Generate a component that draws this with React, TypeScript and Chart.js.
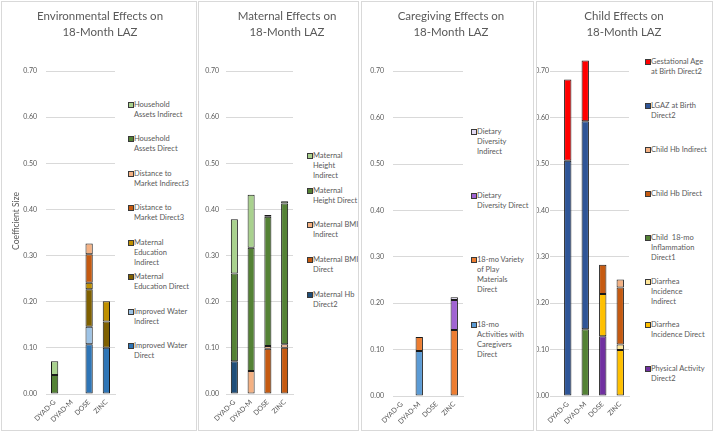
import React, { useEffect, useRef } from 'react';
import { Chart, registerables } from 'chart.js';

Chart.register(...registerables);

// ---------- data ----------
const categories = ['DYAD-G', 'DYAD-M', 'DOSE', 'ZINC'];
const yTickValues = [0, 0.1, 0.2, 0.3, 0.4, 0.5, 0.6, 0.7];

// Environmental (bottom to top)
const envImprovedWaterDirect = [null, null, 0.108, 0.1];
const envImprovedWaterIndirect = [null, null, 0.038, null];
const envMatEduDirect = [null, null, 0.081, 0.057];
const envMatEduIndirect = [null, null, 0.014, 0.044];
const envDistMarketDirect = [null, null, 0.062, null];
const envDistMarketIndirect = [null, null, 0.023, null];
const envHouseholdDirect = [0.041, null, null, null];
const envHouseholdIndirect = [0.03, null, null, null];

// Maternal
const matHbDirect = [0.071, null, null, null];
const matBmiDirect = [null, null, 0.098, 0.1];
const matBmiIndirect = [null, 0.05, 0.006, 0.008];
const matHeightDirect = [0.19, 0.267, 0.28, 0.305];
const matHeightIndirect = [0.118, 0.115, 0.004, 0.005];

// Caregiving
const careActivitiesDirect = [null, 0.097, null, null];
const carePlayDirect = [null, 0.03, null, 0.142];
const careDietDirect = [null, null, null, 0.065];
const careDietIndirect = [null, null, null, 0.006];

// Child
const childPhysActDirect = [null, null, 0.129, null];
const childDiarrheaDirect = [null, null, 0.091, 0.099];
const childDiarrheaIndirect = [null, null, null, 0.012];
const childInflammationDirect = [null, 0.144, null, null];
const childHbDirect = [null, null, 0.063, 0.123];
const childHbIndirect = [null, null, null, 0.017];
const childLgazDirect = [0.507, 0.448, null, null];
const childGestAgeDirect = [0.175, 0.131, null, null];

// ---------- config ----------
type Series = { label: string; lines: string[]; data: (number | null)[]; color: string };
type PanelCfg = {
  title: string[];
  titleCx: number;
  series: Series[];
  boxLeft: number;
  boxWidth: number;
  caLeft: number;
  caRight: number;
  caBottom: number;
  tickPad: number;
  yTitle?: string;
  legendX: number;
  legendY: number;
  legendGap: number;
  gridFrom?: number;
};

const FONT = 'Lato, "Open Sans", sans-serif';
const TEXT = '#595959';
const GRID = '#d9d9d9';

const panels: PanelCfg[] = [
  {
    title: ['Environmental Effects on', '18-Month LAZ'],
    titleCx: 100,
    series: [
      { label: 'Improved Water Direct', lines: ['Improved Water', 'Direct'], data: envImprovedWaterDirect, color: '#2E75B6' },
      { label: 'Improved Water Indirect', lines: ['Improved Water', 'Indirect'], data: envImprovedWaterIndirect, color: '#9DC3E6' },
      { label: 'Maternal Education Direct', lines: ['Maternal', 'Education Direct'], data: envMatEduDirect, color: '#7F6000' },
      { label: 'Maternal Education Indirect', lines: ['Maternal', 'Education', 'Indirect'], data: envMatEduIndirect, color: '#BF9000' },
      { label: 'Distance to Market Direct3', lines: ['Distance to', 'Market Direct3'], data: envDistMarketDirect, color: '#C55A11' },
      { label: 'Distance to Market Indirect3', lines: ['Distance to', 'Market Indirect3'], data: envDistMarketIndirect, color: '#F4B183' },
      { label: 'Household Assets Direct', lines: ['Household', 'Assets Direct'], data: envHouseholdDirect, color: '#548235' },
      { label: 'Household Assets Indirect', lines: ['Household', 'Assets Indirect'], data: envHouseholdIndirect, color: '#A9D18E' },
    ],
    boxLeft: 1,
    boxWidth: 196,
    caLeft: 46,
    caRight: 115,
    caBottom: 394,
    tickPad: 9,
    yTitle: 'Coefficient Size',
    legendX: 128,
    legendY: 104.5,
    legendGap: 34.5,
  },
  {
    title: ['Maternal Effects on', '18-Month LAZ'],
    titleCx: 287,
    series: [
      { label: 'Maternal Hb Direct2', lines: ['Maternal Hb', 'Direct2'], data: matHbDirect, color: '#1F4E79' },
      { label: 'Maternal BMI Direct', lines: ['Maternal BMI', 'Direct'], data: matBmiDirect, color: '#C55A11' },
      { label: 'Maternal BMI Indirect', lines: ['Maternal BMI', 'Indirect'], data: matBmiIndirect, color: '#F4B183' },
      { label: 'Maternal Height Direct', lines: ['Maternal', 'Height Direct'], data: matHeightDirect, color: '#548235' },
      { label: 'Maternal Height Indirect', lines: ['Maternal', 'Height', 'Indirect'], data: matHeightIndirect, color: '#A9D18E' },
    ],
    boxLeft: 198,
    boxWidth: 161,
    caLeft: 226,
    caRight: 293,
    caBottom: 394,
    tickPad: 7,
    legendX: 307,
    legendY: 156,
    legendGap: 34.7,
  },
  {
    title: ['Caregiving Effects on', '18-Month LAZ'],
    titleCx: 451,
    series: [
      { label: '18-mo Activities with Caregivers Direct', lines: ['18-mo', 'Activities with', 'Caregivers', 'Direct'], data: careActivitiesDirect, color: '#5B9BD5' },
      { label: '18-mo Variety of Play Materials Direct', lines: ['18-mo Variety', 'of Play', 'Materials', 'Direct'], data: carePlayDirect, color: '#ED7D31' },
      { label: 'Dietary Diversity Direct', lines: ['Dietary', 'Diversity Direct'], data: careDietDirect, color: '#A064D2' },
      { label: 'Dietary Diversity Indirect', lines: ['Dietary', 'Diversity', 'Indirect'], data: careDietIndirect, color: '#E2DAF4' },
    ],
    boxLeft: 361,
    boxWidth: 173,
    caLeft: 393,
    caRight: 463,
    caBottom: 396,
    tickPad: 9,
    legendX: 471,
    legendY: 132,
    legendGap: 64.2,
  },
  {
    title: ['Child Effects on', '18-Month LAZ'],
    titleCx: 624,
    series: [
      { label: 'Physical Activity Direct2', lines: ['Physical Activity', 'Direct2'], data: childPhysActDirect, color: '#7030A0' },
      { label: 'Diarrhea Incidence Direct', lines: ['Diarrhea', 'Incidence Direct'], data: childDiarrheaDirect, color: '#FFC000' },
      { label: 'Diarrhea Incidence Indirect', lines: ['Diarrhea', 'Incidence', 'Indirect'], data: childDiarrheaIndirect, color: '#FFE699' },
      { label: 'Child 18-mo Inflammation Direct1', lines: ['Child  18-mo', 'Inflammation', 'Direct1'], data: childInflammationDirect, color: '#548235' },
      { label: 'Child Hb Direct', lines: ['Child Hb Direct'], data: childHbDirect, color: '#C55A11' },
      { label: 'Child Hb Indirect', lines: ['Child Hb Indirect'], data: childHbIndirect, color: '#F4B183' },
      { label: 'LGAZ at Birth Direct2', lines: ['LGAZ at Birth', 'Direct2'], data: childLgazDirect, color: '#2F5597' },
      { label: 'Gestational Age at Birth Direct2', lines: ['Gestational Age', 'at Birth Direct2'], data: childGestAgeDirect, color: '#FF0000' },
    ],
    boxLeft: 536,
    boxWidth: 177,
    caLeft: 559,
    caRight: 629,
    caBottom: 396,
    tickPad: 10,
    legendX: 645,
    legendY: 62,
    legendGap: 43.9,
    gridFrom: 550,
  },
];

const PANEL_TOP = 1;
const PANEL_H = 430;
const CA_TOP = 48;

function gridExt(fromX: number) {
  return {
    id: 'gridExt',
    beforeDatasetsDraw(chart: any) {
      const y = chart.scales.y;
      const ctx = chart.ctx;
      ctx.save();
      ctx.strokeStyle = GRID;
      ctx.lineWidth = 1;
      y.ticks.forEach((t: any) => {
        const p = Math.round(y.getPixelForValue(t.value) - 0.5) + 0.5;
        ctx.beginPath();
        ctx.moveTo(fromX, p);
        ctx.lineTo(chart.chartArea.left, p);
        ctx.stroke();
      });
      ctx.restore();
    },
  };
}

function Panel({ cfg }: { cfg: PanelCfg }) {
  const ref = useRef<HTMLCanvasElement>(null);
  const ox = cfg.boxLeft + 1;
  const oy = PANEL_TOP + 1;
  const cw = cfg.caRight + 3 - ox;
  const ch = PANEL_H - 2;

  useEffect(() => {
    const chart = new Chart(ref.current as HTMLCanvasElement, {
      type: 'bar',
      data: {
        labels: categories,
        datasets: cfg.series.map((s) => ({
          label: s.label,
          data: s.data as any,
          backgroundColor: s.color,
          borderColor: '#1a1a1a',
          borderWidth: 1,
          borderSkipped: false,
          barPercentage: 0.42,
          categoryPercentage: 1,
        })),
      },
      options: {
        responsive: false,
        animation: false,
        devicePixelRatio: 1,
        layout: { padding: { left: 0, top: CA_TOP - oy, right: 3, bottom: 0 } },
        plugins: {
          legend: { display: false },
          title: { display: false },
          tooltip: { enabled: false },
        },
        scales: {
          x: {
            stacked: true,
            grid: { display: false, drawTicks: false },
            border: { display: true, color: GRID, width: 1 },
            ticks: {
              font: { family: FONT, size: 7 },
              color: TEXT,
              minRotation: 45,
              maxRotation: 45,
              padding: 4,
              autoSkip: false,
            },
            afterFit: (s: any) => {
              s.height = oy + ch - cfg.caBottom;
            },
          },
          y: {
            stacked: true,
            min: 0,
            max: 0.75,
            afterBuildTicks: (s: any) => {
              s.ticks = yTickValues.map((v) => ({ value: v }));
            },
            ticks: {
              padding: cfg.tickPad,
              font: { family: FONT, size: 7 },
              color: TEXT,
              callback: (v: any) => Number(v).toFixed(2),
            },
            grid: { color: GRID, drawTicks: false },
            border: { display: false },
            title: cfg.yTitle
              ? {
                  display: true,
                  text: cfg.yTitle,
                  color: TEXT,
                  font: { family: FONT, size: 8.5 },
                  padding: { top: 9, bottom: 0 },
                }
              : { display: false },
            afterFit: (s: any) => {
              s.width = cfg.caLeft - ox;
            },
          },
        },
      } as any,
      plugins: cfg.gridFrom ? [gridExt(cfg.gridFrom - ox)] : [],
    });
    return () => chart.destroy();
  }, []);

  const legendItems = cfg.series.slice().reverse();

  return (
    <div
      style={{
        position: 'absolute',
        left: cfg.boxLeft,
        top: PANEL_TOP,
        width: cfg.boxWidth,
        height: PANEL_H,
        boxSizing: 'border-box',
        border: `1px solid ${GRID}`,
        overflow: 'hidden',
        background: '#fff',
      }}
    >
      <canvas
        ref={ref}
        width={cw}
        height={ch}
        style={{ position: 'absolute', left: 0, top: 0, width: cw, height: ch, display: 'block' }}
      />
      <div
        style={{
          position: 'absolute',
          left: cfg.titleCx - 100 - ox,
          top: 8 - oy,
          width: 200,
          textAlign: 'center',
          fontFamily: FONT,
          fontSize: 11.5,
          lineHeight: '16px',
          color: TEXT,
          whiteSpace: 'nowrap',
        }}
      >
        {cfg.title.map((t, i) => (
          <div key={i}>{t}</div>
        ))}
      </div>
      {legendItems.map((s, i) => (
        <div
          key={s.label}
          style={{
            position: 'absolute',
            left: cfg.legendX - ox,
            top: cfg.legendY + i * cfg.legendGap - 5 - oy,
            fontFamily: FONT,
            fontSize: 7.5,
            lineHeight: '10px',
            color: TEXT,
            whiteSpace: 'nowrap',
          }}
        >
          <span
            style={{
              position: 'absolute',
              left: 0,
              top: 2,
              width: 4,
              height: 4,
              border: '1px solid #3a3a3a',
              background: s.color,
            }}
          />
          <div style={{ marginLeft: 6 }}>
            {s.lines.map((l, j) => (
              <div key={j} style={{ whiteSpace: 'pre' }}>{l}</div>
            ))}
          </div>
        </div>
      ))}
    </div>
  );
}

export default function App() {
  useEffect(() => {
    document.body.style.margin = '0';
  }, []);
  return (
    <div style={{ position: 'fixed', left: 0, top: 0, width: 714, height: 434, background: '#fff' }}>
      {panels.map((p, i) => (
        <Panel key={i} cfg={p} />
      ))}
    </div>
  );
}
